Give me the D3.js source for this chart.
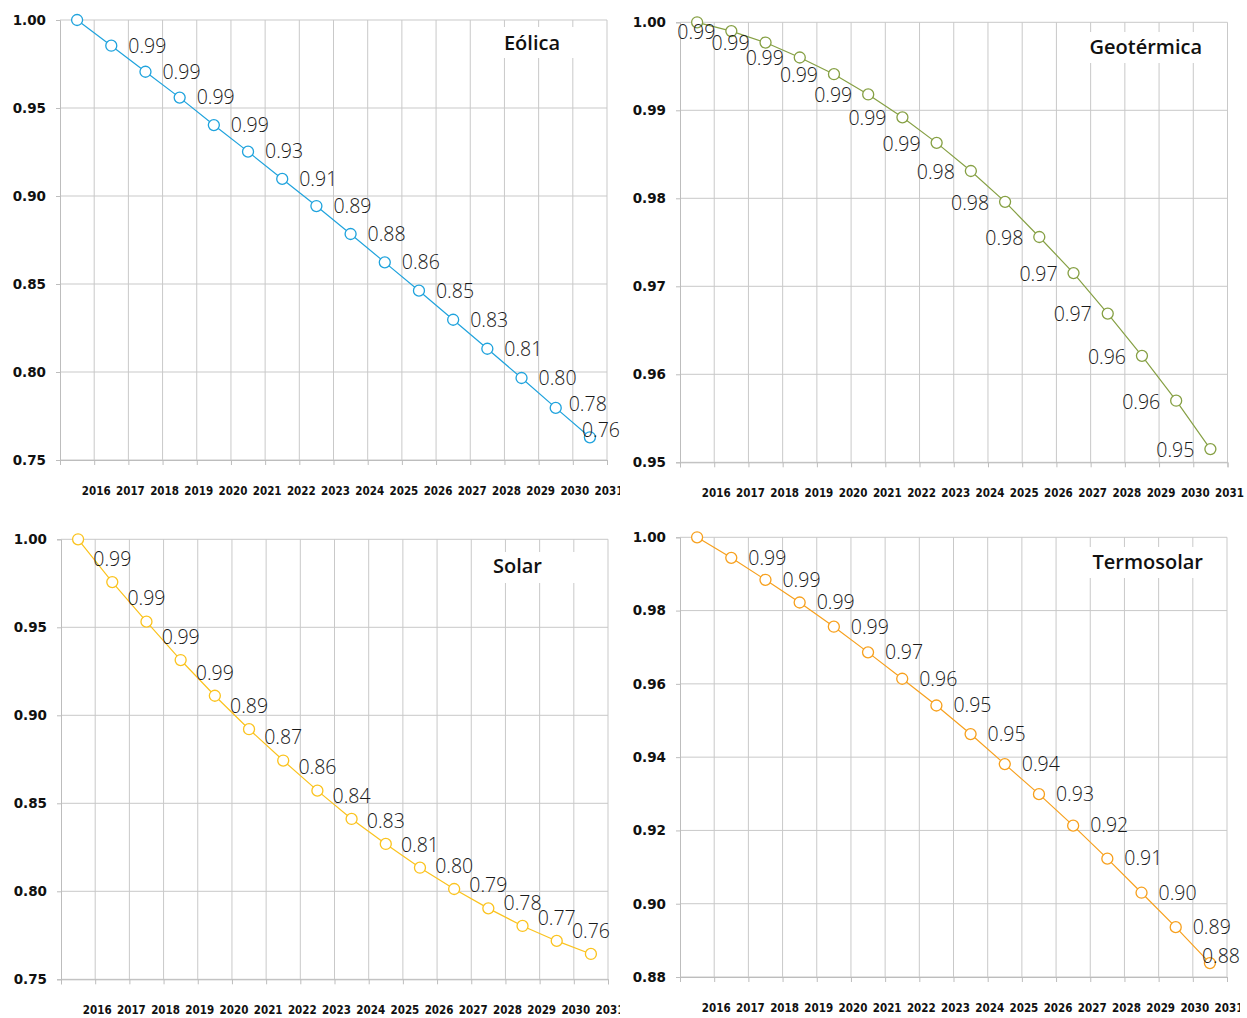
<!DOCTYPE html>
<html>
<head>
<meta charset="utf-8">
<script src="https://cdn.jsdelivr.net/npm/d3@7"></script>
<style>
  html, body { margin: 0; padding: 0; background: #fff; }
  svg { display: block; }
</style>
</head>
<body>
<svg id="chart" width="1247" height="1018"></svg>
<script>
// ---------- DATA ----------
const yearTicks = ["2016","2017","2018","2019","2020","2021","2022","2023","2024","2025","2026","2027","2028","2029","2030","2031"];

const eolicaValues = [1.0000,0.9854,0.9706,0.9559,0.9403,0.9252,0.9097,0.8943,0.8784,0.8623,0.8462,0.8297,0.8132,0.7966,0.7796,0.7629];
const eolicaLabels = ["0.99","0.99","0.99","0.99","0.93","0.91","0.89","0.88","0.86","0.85","0.83","0.81","0.80","0.78","0.76"];

const geoValues = [1.0000,0.9990,0.9977,0.9960,0.9941,0.9918,0.9892,0.9863,0.9831,0.9796,0.9756,0.9715,0.9669,0.9621,0.9570,0.9515];
const geoLabels = ["0.99","0.99","0.99","0.99","0.99","0.99","0.99","0.98","0.98","0.98","0.97","0.97","0.96","0.96","0.95"];

const solarValues = [1.0000,0.9757,0.9532,0.9314,0.9111,0.8921,0.8743,0.8572,0.8411,0.8269,0.8134,0.8013,0.7903,0.7803,0.7718,0.7644];
const solarLabels = ["0.99","0.99","0.99","0.99","0.89","0.87","0.86","0.84","0.83","0.81","0.80","0.79","0.78","0.77","0.76"];

const termoValues = [1.0000,0.9944,0.9884,0.9822,0.9756,0.9686,0.9614,0.9541,0.9463,0.9381,0.9299,0.9213,0.9123,0.9030,0.8936,0.8838];
const termoLabels = ["0.99","0.99","0.99","0.99","0.97","0.96","0.95","0.95","0.94","0.93","0.92","0.91","0.90","0.89","0.88"];

const eolicaTicks = [0.75,0.80,0.85,0.90,0.95,1.00];
const geoTicks = [0.95,0.96,0.97,0.98,0.99,1.00];
const solarTicks = [0.75,0.80,0.85,0.90,0.95,1.00];
const termoTicks = [0.88,0.90,0.92,0.94,0.96,0.98,1.00];

// ---------- LAYOUT ----------
const panels = [
  { title: "Eólica", values: eolicaValues, labels: eolicaLabels, ticks: eolicaTicks,
    color: "#1fa3dd", left: 60, right: 607, top: 20, bottom: 460, clipRight: 620,
    mode: "right", titleEnd: 560, titleY: 43, box: [495, 27, 590, 58] },
  { title: "Geotérmica", values: geoValues, labels: geoLabels, ticks: geoTicks,
    color: "#86a044", left: 680, right: 1227.5, top: 22.3, bottom: 462.3, clipRight: 1247,
    mode: "left", titleEnd: 1202, titleY: 47, box: [1080, 32, 1215, 63] },
  { title: "Solar", values: solarValues, labels: solarLabels, ticks: solarTicks,
    color: "#fbc31e", left: 61, right: 608, top: 539.3, bottom: 979.3, clipRight: 620,
    mode: "above", titleEnd: 542, titleY: 566, box: [485, 552, 590, 583] },
  { title: "Termosolar", values: termoValues, labels: termoLabels, ticks: termoTicks,
    color: "#f7a01d", left: 680, right: 1227, top: 537.3, bottom: 977, clipRight: 1240,
    mode: "right", titleEnd: 1203, titleY: 562, box: [1078, 547, 1215, 578] }
];

const svg = d3.select("#chart");
const gridColor = "#c9c9c9";
const labelFont = "'Open Sans', 'DejaVu Sans', sans-serif";

panels.forEach((p, pi) => {
  const n = p.values.length;
  const x = d3.scaleLinear().domain([0, n]).range([p.left, p.right]);
  const y = d3.scaleLinear().domain([d3.min(p.ticks), d3.max(p.ticks)]).range([p.bottom, p.top]);

  const clipId = "clip" + pi;
  svg.append("clipPath").attr("id", clipId)
    .append("rect").attr("x", p.left - 70).attr("y", p.top - 30)
    .attr("width", p.clipRight - (p.left - 70)).attr("height", p.bottom - p.top + 80);

  const g = svg.append("g").attr("clip-path", `url(#${clipId})`);

  // horizontal gridlines
  g.append("g").selectAll("line").data(p.ticks).join("line")
    .attr("x1", p.left).attr("x2", p.right)
    .attr("y1", d => y(d)).attr("y2", d => y(d))
    .attr("stroke", gridColor).attr("stroke-width", 1);

  // vertical gridlines
  g.append("g").selectAll("line").data(d3.range(1, n + 1)).join("line")
    .attr("x1", d => x(d)).attr("x2", d => x(d))
    .attr("y1", p.top).attr("y2", p.bottom)
    .attr("stroke", gridColor).attr("stroke-width", 1);

  // x axis
  const xAxis = d3.axisBottom(x)
    .tickValues(d3.range(0, n + 1))
    .tickSize(5).tickPadding(22)
    .tickFormat(d => d >= 1 ? yearTicks[d - 1] : "");
  const xg = g.append("g").attr("transform", `translate(0,${p.bottom})`).call(xAxis);
  xg.select(".domain").attr("stroke", "#bdbdbd");
  xg.selectAll(".tick line").attr("stroke", "#bdbdbd");
  xg.selectAll(".tick text")
    .attr("dx", 1.5)
    .style("font-family", "'DejaVu Sans Condensed', 'DejaVu Sans', sans-serif")
    .style("font-weight", "bold").style("font-size", "11.5px").attr("fill", "#111");

  // y axis
  const yAxis = d3.axisLeft(y).tickValues(p.ticks).tickSize(4).tickPadding(10)
    .tickFormat(d3.format(".2f"));
  const yg = g.append("g").attr("transform", `translate(${p.left},0)`).call(yAxis);
  yg.select(".domain").attr("stroke", "#bdbdbd");
  yg.selectAll(".tick line").attr("stroke", "#bdbdbd");
  yg.selectAll(".tick text")
    .style("font-family", "'DejaVu Sans', sans-serif")
    .style("font-weight", "bold").style("font-size", "13.5px").attr("fill", "#111");

  // title with white box
  g.append("rect").attr("x", p.box[0]).attr("y", p.box[1])
    .attr("width", p.box[2] - p.box[0]).attr("height", p.box[3] - p.box[1])
    .attr("fill", "#fff");
  g.append("text").attr("x", p.titleEnd).attr("y", p.titleY).attr("dy", "0.35em")
    .attr("text-anchor", "end")
    .style("font-family", "'Open Sans', sans-serif").style("font-weight", "600")
    .style("font-size", "20px").attr("fill", "#111").text(p.title);

  // line
  const line = d3.line().x((d, i) => x(i + 0.5)).y(d => y(d));
  g.append("path").datum(p.values).attr("d", line)
    .attr("fill", "none").attr("stroke", p.color).attr("stroke-width", 1.2);

  // markers
  g.append("g").selectAll("circle").data(p.values).join("circle")
    .attr("cx", (d, i) => x(i + 0.5)).attr("cy", d => y(d)).attr("r", 5.5)
    .attr("fill", "#fff").attr("stroke", p.color).attr("stroke-width", 1.3);

  // data labels (for points 1..n-1)
  const lg = g.append("g");
  const placed = [];
  p.labels.forEach((lab, k) => {
    const i = k + 1;
    const px = x(i + 0.5), py = y(p.values[i]);
    const t = lg.append("text").text(lab)
      .style("font-family", labelFont).style("font-weight", "300")
      .style("font-size", "19.5px").attr("fill", "#1a1a1a").attr("dy", "0.35em");
    if (p.mode === "right") {
      const w = t.node().getComputedTextLength();
      let tx = px + 17, ty = py;
      if (tx + w > p.clipRight) {
        tx = p.clipRight - w; ty = py - 7;
        // nudge previous label up/left to avoid collision
        const prev = placed[placed.length - 1];
        if (prev && ty - prev.y < 26) {
          prev.y = ty - 26; prev.x -= 4;
          prev.node.attr("x", prev.x).attr("y", prev.y);
        }
      }
      t.attr("x", tx).attr("y", ty).attr("text-anchor", "start");
      placed.push({ node: t, x: tx, y: ty });
    } else if (p.mode === "left") {
      t.attr("x", px - 16).attr("y", py + 1).attr("text-anchor", "end");
    } else {
      t.attr("x", px).attr("y", py - 23).attr("text-anchor", "middle");
    }
  });
});
</script>
</body>
</html>
